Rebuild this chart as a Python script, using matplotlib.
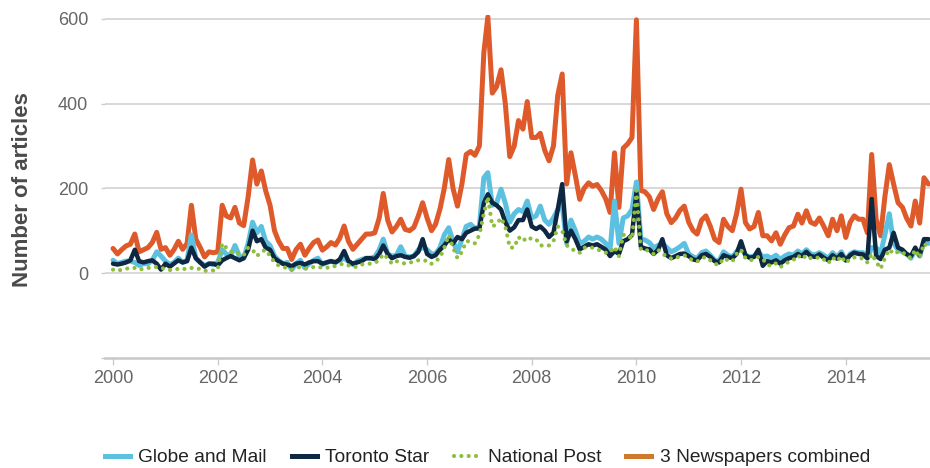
import matplotlib
matplotlib.use("Agg")
import matplotlib.pyplot as plt
from matplotlib.lines import Line2D
import numpy as np
import pandas as pd

plt.rcParams['font.family'] = ['Liberation Sans', 'DejaVu Sans']

# monthly counts, Jan 2000 .. Aug 2015
months = pd.date_range('2000-01-01', periods=188, freq='MS')

combined = [58, 45, 55, 64, 68, 92, 50, 55, 60, 72, 96, 56,          # 2000
            60, 42, 55, 75, 56, 70, 160, 80, 60, 38, 50, 48,         # 2001
            50, 160, 135, 130, 155, 118, 112, 180, 267, 210, 241, 195,  # 2002
            160, 100, 76, 58, 58, 32, 55, 68, 42, 58, 72, 78,        # 2003
            54, 62, 72, 66, 82, 111, 75, 56, 68, 80, 92, 92,         # 2004
            95, 130, 188, 125, 97, 110, 127, 103, 100, 108, 135, 166,  # 2005
            130, 100, 115, 151, 200, 268, 200, 158, 210, 280, 287, 278,  # 2006
            300, 520, 605, 425, 440, 480, 400, 275, 300, 360, 340, 405,  # 2007
            320, 320, 330, 290, 265, 300, 420, 470, 210, 284, 230, 174,  # 2008
            200, 213, 205, 209, 195, 175, 143, 284, 155, 295, 305, 320,  # 2009
            598, 195, 192, 180, 150, 175, 192, 140, 119, 130, 148, 158,  # 2010
            120, 100, 92, 125, 135, 110, 80, 72, 127, 110, 100, 140,   # 2011
            198, 119, 104, 110, 143, 88, 88, 76, 95, 68, 90, 107,      # 2012
            111, 139, 118, 147, 120, 115, 130, 110, 88, 127, 100, 135,  # 2013
            84, 120, 135, 127, 127, 95, 280, 127, 88, 180, 256, 210,   # 2014
            166, 155, 130, 111, 170, 118, 225, 210]                    # 2015

globe = [30, 22, 25, 28, 28, 25, 18, 22, 22, 30, 50, 40,
         28, 20, 25, 35, 25, 30, 90, 35, 25, 18, 22, 20,
         25, 55, 45, 40, 65, 40, 35, 70, 120, 95, 110, 75,
         65, 40, 30, 22, 25, 8, 22, 30, 12, 22, 30, 35,
         20, 25, 28, 25, 30, 35, 28, 20, 28, 32, 35, 35,
         38, 55, 80, 45, 40, 42, 62, 40, 38, 40, 55, 60,
         55, 45, 45, 60, 90, 107, 75, 50, 80, 110, 115, 105,
         110, 225, 237, 160, 165, 198, 165, 120, 140, 150, 145, 170,
         130, 135, 158, 125, 115, 130, 150, 160, 70, 125, 100, 70,
         75, 85, 80, 85, 80, 70, 55, 170, 70, 130, 135, 150,
         215, 80, 78, 72, 60, 65, 70, 60, 50, 55, 62, 70,
         45, 38, 35, 48, 52, 42, 30, 28, 50, 42, 38, 50,
         65, 42, 38, 40, 50, 38, 40, 35, 42, 32, 40, 45,
         42, 52, 45, 55, 45, 43, 48, 42, 35, 48, 38, 50,
         30, 45, 50, 48, 48, 35, 60, 60, 45, 90, 140, 70,
         55, 50, 45, 35, 55, 40, 75, 70]

star = [22, 20, 22, 25, 30, 55, 28, 25, 28, 30, 22, 8,
        22, 15, 22, 30, 25, 28, 60, 35, 25, 15, 22, 22,
        18, 30, 35, 40, 35, 30, 35, 55, 100, 75, 80, 60,
        55, 35, 28, 22, 20, 16, 22, 24, 20, 25, 28, 28,
        22, 25, 28, 25, 32, 52, 28, 22, 25, 28, 35, 35,
        33, 45, 65, 45, 35, 40, 42, 38, 36, 40, 50, 80,
        45, 38, 42, 55, 65, 80, 70, 85, 80, 95, 100, 105,
        105, 165, 186, 166, 160, 150, 120, 100, 108, 125, 125, 150,
        110, 104, 110, 100, 85, 95, 150, 210, 75, 100, 80, 56,
        62, 68, 65, 68, 62, 55, 40, 52, 45, 75, 80, 90,
        190, 62, 58, 56, 45, 55, 80, 42, 35, 40, 45, 46,
        40, 32, 30, 42, 45, 38, 28, 25, 42, 38, 35, 45,
        75, 42, 36, 38, 55, 17, 28, 25, 30, 22, 30, 35,
        38, 45, 40, 50, 40, 38, 44, 36, 30, 42, 34, 45,
        30, 42, 48, 45, 44, 35, 175, 40, 33, 55, 60, 95,
        60, 55, 45, 40, 60, 42, 80, 80]

post = [8, 5, 8, 10, 12, 12, 8, 10, 12, 12, 15, 12,
        10, 7, 8, 10, 8, 12, 12, 10, 10, 5, 6, 6,
        8, 70, 60, 50, 52, 45, 42, 60, 55, 40, 50, 55,
        40, 25, 18, 14, 12, 8, 12, 14, 10, 12, 14, 15,
        12, 12, 16, 16, 20, 22, 18, 14, 15, 20, 22, 22,
        24, 30, 45, 35, 22, 28, 25, 22, 24, 28, 30, 28,
        30, 22, 28, 36, 60, 90, 60, 35, 50, 75, 75, 70,
        90, 140, 180, 110, 115, 130, 110, 60, 60, 85, 75, 85,
        80, 80, 65, 65, 65, 75, 110, 100, 65, 60, 50, 48,
        60, 60, 60, 56, 52, 48, 48, 62, 40, 90, 90, 80,
        195, 55, 55, 52, 45, 55, 45, 40, 34, 35, 40, 42,
        35, 30, 27, 35, 38, 30, 22, 19, 35, 30, 27, 45,
        55, 35, 30, 32, 38, 33, 20, 16, 23, 14, 20, 27,
        31, 42, 33, 42, 35, 34, 38, 32, 23, 37, 28, 40,
        24, 33, 37, 34, 35, 25, 45, 27, 10, 35, 56, 45,
        50, 50, 40, 36, 55, 36, 70, 60]

labels = ['Globe and Mail', 'Toronto Star', 'National Post', '3 Newspapers combined']

c_orange = '#DE5A2A'
c_blue = '#5CC0E0'
c_navy = '#0E2742'
c_green = '#8DBE3C'
c_legend_orange = '#CF7A2A'

fig = plt.figure(figsize=(9.3, 4.68), dpi=100)
ax = fig.add_axes([0.1129, 0.2357, 0.8871, 0.7328])

ax.plot(months, combined, color=c_orange, lw=3.6, zorder=2,
        solid_joinstyle='round', solid_capstyle='round')
ax.plot(months, globe, color=c_blue, lw=3.6, zorder=3,
        solid_joinstyle='round', solid_capstyle='round')
ax.plot(months, star, color=c_navy, lw=3.2, zorder=4,
        solid_joinstyle='round', solid_capstyle='round')
ax.plot(months, post, color=c_green, lw=3.0, zorder=5,
        linestyle=(0, (0.01, 1.75)), dash_capstyle='round')

ax.set_ylim(-200, 610)
ax.set_xlim(pd.Timestamp('1999-11-06'), pd.Timestamp('2015-08-12'))

ax.set_yticks([-200, 0, 200, 400, 600])
ax.set_yticklabels(['', '0', '200', '400', '600'])
years = [pd.Timestamp(f'{y}-01-01') for y in range(2000, 2016, 2)]
ax.set_xticks(years)
ax.set_xticklabels([str(y) for y in range(2000, 2016, 2)])

for g in [0, 200, 400, 600]:
    ax.axhline(g, color='#d6d6d6', lw=1.3, zorder=1)

for s in ['top', 'right', 'left']:
    ax.spines[s].set_visible(False)
ax.spines['bottom'].set_color('#c8c8c8')
ax.spines['bottom'].set_linewidth(1.8)

ax.tick_params(axis='y', length=3, width=1, color='#cccccc', pad=9,
               labelsize=13, labelcolor='#666666')
ax.tick_params(axis='x', length=5, width=1, color='#cccccc', pad=4,
               labelsize=13, labelcolor='#666666')

fig.text(0.0247, 0.594, 'Number of articles', rotation=90, ha='center', va='center',
         fontsize=16, fontweight='bold', color='#4a4a4a')

handles = [Line2D([], [], color=c_blue, lw=3.6),
           Line2D([], [], color=c_navy, lw=3.6),
           Line2D([], [], color=c_green, lw=3.0, linestyle=(0, (0.01, 1.75)),
                  dash_capstyle='round'),
           Line2D([], [], color=c_legend_orange, lw=3.6)]
fig.legend(handles, labels, loc='center', bbox_to_anchor=(0.524, 0.022), ncol=4,
           frameon=False, fontsize=13.8, handlelength=1.3, handletextpad=0.45,
           columnspacing=1.3, labelcolor='#222222')

fig.savefig('out.png', dpi=100)
